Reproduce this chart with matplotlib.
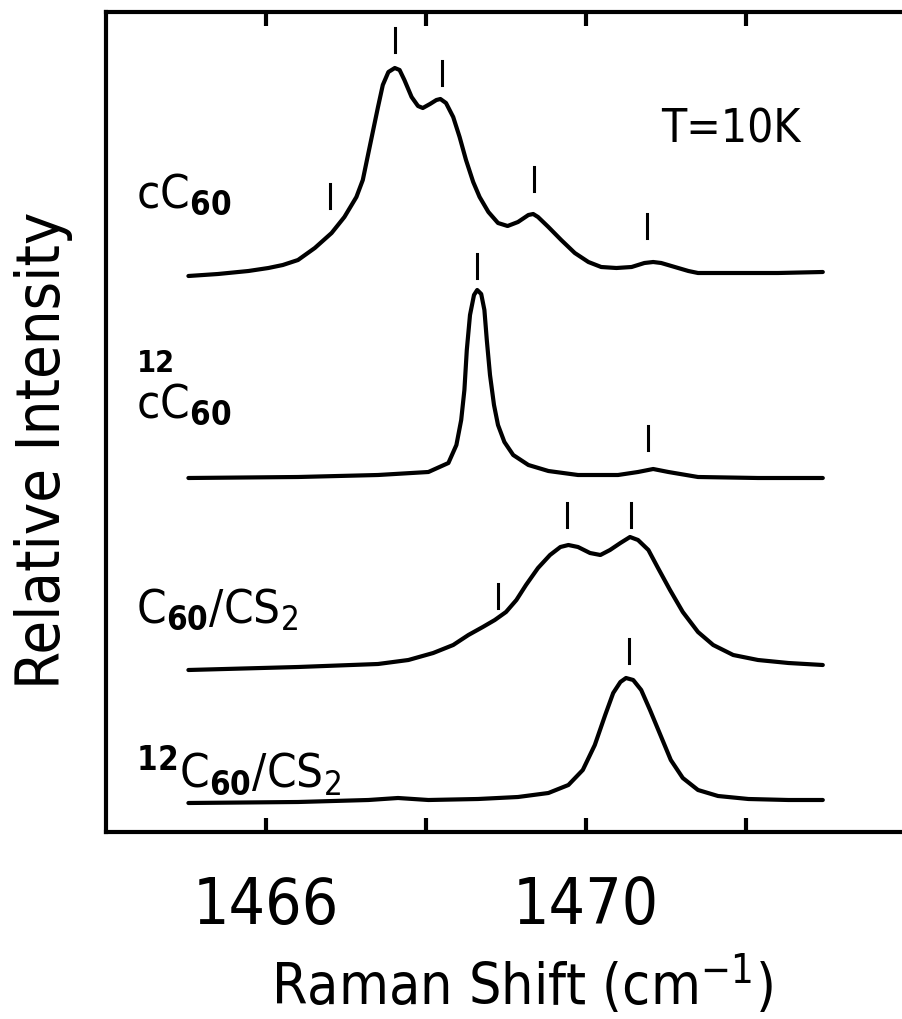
import matplotlib
matplotlib.use("Agg")
import matplotlib.pyplot as plt
from matplotlib import font_manager as fm

# narrow sans face, like the plotter lettering of the original
have = {(f.name, f.stretch) for f in fm.fontManager.ttflist}
if any(n == 'Liberation Sans Narrow' for n, s in have):
    fam, stretch = 'Liberation Sans Narrow', 'normal'
else:
    fam, stretch = 'DejaVu Sans', 'condensed'
plt.rcParams['font.family'] = [fam, 'DejaVu Sans']
plt.rcParams['font.stretch'] = stretch
plt.rcParams['mathtext.fontset'] = 'custom'
plt.rcParams['mathtext.rm'] = f'{fam}:stretch={stretch}'
plt.rcParams['mathtext.bf'] = f'{fam}:bold:stretch={stretch}'

# spectra: Raman shift (cm-1) and offset intensity (arb.)
c_x = [1465.03, 1465.40, 1465.78, 1466.03, 1466.21, 1466.40, 1466.61, 1466.82, 1466.98,
       1467.13, 1467.21, 1467.28, 1467.34, 1467.40, 1467.46, 1467.53, 1467.61, 1467.67,
       1467.73, 1467.82, 1467.90, 1467.96, 1468.05, 1468.13, 1468.18, 1468.25, 1468.34,
       1468.42, 1468.50, 1468.59, 1468.67, 1468.78, 1468.90, 1469.02, 1469.15, 1469.28,
       1469.34, 1469.40, 1469.53, 1469.69, 1469.86, 1470.03, 1470.19, 1470.38, 1470.57,
       1470.73, 1470.84, 1470.94, 1471.11, 1471.28, 1471.40, 1471.90, 1472.40, 1472.96]
c_y = [556, 558, 561, 564, 567, 572, 584, 599, 615, 635, 652, 679, 702, 725, 747, 760,
       764, 762, 752, 735, 726, 724, 728, 732, 733, 729, 715, 695, 672, 650, 635, 620,
       609, 606, 610, 617, 618, 615, 605, 592, 579, 570, 565, 564, 565, 569, 570, 569,
       565, 561, 559, 559, 559, 560]

c12_x = [1465.03, 1466.40, 1467.40, 1468.03, 1468.28, 1468.38, 1468.44, 1468.48, 1468.51,
         1468.55, 1468.60, 1468.64, 1468.69, 1468.73, 1468.76, 1468.80, 1468.85, 1468.90,
         1468.98, 1469.09, 1469.28, 1469.53, 1469.90, 1470.40, 1470.65, 1470.84, 1471.03,
         1471.40, 1472.15, 1472.96]
c12_y = [354, 355, 357, 360, 369, 387, 412, 442, 482, 517, 537, 542, 538, 522, 492, 457,
         427, 407, 390, 377, 367, 361, 357, 357, 360, 363, 360, 355, 354, 354]

cs2_x = [1465.03, 1466.40, 1467.40, 1467.78, 1468.09, 1468.34, 1468.53, 1468.71, 1468.86,
         1469.00, 1469.13, 1469.25, 1469.40, 1469.55, 1469.68, 1469.78, 1469.90, 1470.05,
         1470.18, 1470.30, 1470.43, 1470.55, 1470.65, 1470.78, 1470.90, 1471.05, 1471.21,
         1471.40, 1471.59, 1471.84, 1472.15, 1472.53, 1472.96]
cs2_y = [162, 165, 168, 172, 179, 187, 197, 205, 212, 220, 232, 247, 264, 277, 285, 287,
         285, 279, 277, 282, 289, 295, 292, 282, 264, 242, 220, 200, 187, 177, 172, 169, 167]

cs212_x = [1465.03, 1466.40, 1467.28, 1467.65, 1468.03, 1468.65, 1469.15, 1469.53, 1469.78,
           1469.96, 1470.11, 1470.24, 1470.34, 1470.43, 1470.50, 1470.59, 1470.69, 1470.80,
           1470.93, 1471.06, 1471.21, 1471.40, 1471.65, 1472.03, 1472.53, 1472.96]
cs212_y = [29, 30, 32, 34, 32, 33, 35, 39, 47, 62, 87, 117, 139, 150, 154, 152, 142, 122,
           97, 72, 54, 42, 36, 33, 32, 32]

# peak markers: position and lower end
mark_x = [1466.80, 1467.61, 1468.20, 1469.35, 1470.76, 1468.64, 1470.78,
          1468.90, 1469.76, 1470.56, 1470.54]
mark_y = [624, 780, 747, 641, 594, 554, 382, 224, 305, 305, 169]
mark_len = 24

labels = [r'$\mathrm{cC}_{\mathbf{60}}$', r'$\mathrm{cC}_{\mathbf{60}}$',
          r'$\mathrm{C}_{\mathbf{60}}/\mathrm{CS}_{2}$',
          r'$^{\mathbf{12}}\mathrm{C}_{\mathbf{60}}/\mathrm{CS}_{2}$']
label_y = [637, 427, 222, 62]

fig = plt.figure(figsize=(9.03, 10.19), dpi=100)
ax = fig.add_axes([106 / 903, 187 / 1019, 800 / 903, 820 / 1019])

for xs, ys in [(c_x, c_y), (c12_x, c12_y), (cs2_x, cs2_y), (cs212_x, cs212_y)]:
    ax.plot(xs, ys, color='black', lw=3, solid_joinstyle='round', solid_capstyle='round')

for mx, my in zip(mark_x, mark_y):
    ax.plot([mx, mx], [my, my + mark_len], color='black', lw=2.2)

for lab, ly in zip(labels, label_y):
    ax.text(1464.38, ly, lab, fontsize=34, ha='left', va='center')
# isotope mark stacked over the c, as in the original
ax.text(1464.38, 468, '12', fontsize=22, fontweight='bold', ha='left', va='center')

ax.text(1470.94, 702, 'T=10K', fontsize=33, ha='left', va='center')

ax.set_xlim(1464, 1474)
ax.set_ylim(0, 820)
ax.set_xticks([1466, 1468, 1470, 1472])
ax.set_xticklabels(['1466', '', '1470', ''])
ax.set_yticks([])
ax.tick_params(axis='x', direction='in', top=True, length=10, width=3, pad=31, labelsize=46)
ax.spines['right'].set_visible(False)
for s in ['left', 'top', 'bottom']:
    ax.spines[s].set_linewidth(3)

ax.set_xlabel('Raman Shift (cm$^{-1}$)', fontsize=41)
ax.xaxis.set_label_coords(0.52, -0.148)
ax.set_ylabel('Relative Intensity', fontsize=44)
ax.yaxis.set_label_coords(-0.041, 0.465)

fig.savefig('out.png', dpi=100)
